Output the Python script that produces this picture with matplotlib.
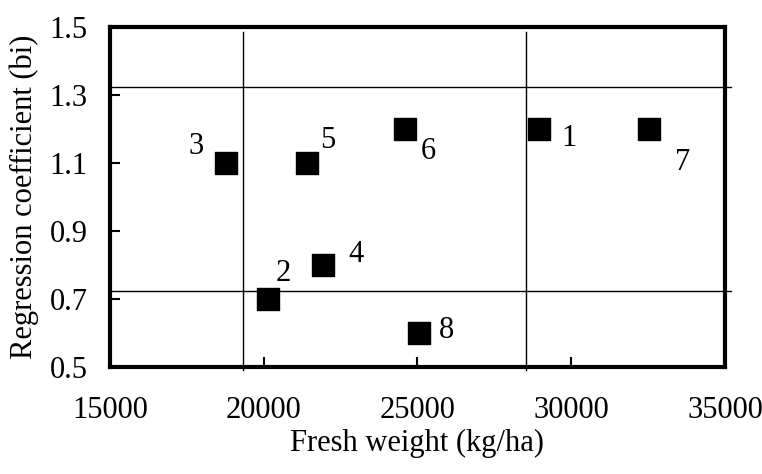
import matplotlib
matplotlib.use("Agg")
import matplotlib.pyplot as plt

plt.rcParams['font.family'] = ['Liberation Serif', 'DejaVu Serif']

# entries 1..8
labels = ['1', '2', '3', '4', '5', '6', '7', '8']
fresh_weight = [28950, 20150, 18780, 21930, 21400, 24590, 32530, 25050]
reg_coef = [1.2, 0.7, 1.1, 0.8, 1.1, 1.2, 1.2, 0.6]

# reference lines
v_lines = [19330, 28540]
h_lines = [1.324, 0.724]

x_ticks = [15000, 20000, 25000, 30000, 35000]
y_ticks = [0.5, 0.7, 0.9, 1.1, 1.3, 1.5]

# label offsets in points (dx, dy)
offsets = {
    '1': (21.5, -4), '2': (11, 21), '3': (-21.5, 14.5), '4': (24, 10),
    '5': (15, 19), '6': (17, -14), '7': (24.5, -21.5), '8': (20, 4.5),
}

fig = plt.figure(figsize=(7.62, 4.74), dpi=100)
ax = fig.add_axes([0.1444, 0.2257, 0.8070, 0.7173])

ax.scatter(fresh_weight, reg_coef, marker='s', s=250, color='black', zorder=3)
for lab, x, y in zip(labels, fresh_weight, reg_coef):
    dx, dy = offsets[lab]
    ax.annotate(lab, (x, y), xytext=(dx, dy), textcoords='offset points',
                fontsize=22, ha='center', va='center_baseline')

for v in v_lines:
    ax.axvline(v, ymin=-0.01, ymax=0.985, color='black', lw=1, clip_on=False)
for h in h_lines:
    ax.axhline(h, xmin=0, xmax=1.01, color='black', lw=1, clip_on=False)

ax.set_xlim(15000, 35000)
ax.set_ylim(0.5, 1.5)
ax.set_xticks(x_ticks)
ax.set_yticks(y_ticks)
ax.set_yticklabels([f'{t:.1f}' for t in y_ticks])
ax.tick_params(axis='both', direction='in', length=7, width=1.5, labelsize=22)
ax.tick_params(axis='x', pad=21)
ax.tick_params(axis='y', pad=16)
for sp in ax.spines.values():
    sp.set_linewidth(3)

ax.set_xlabel('Fresh weight (kg/ha)', fontsize=22, labelpad=3)
ax.set_ylabel('Regression coefficient (bi)', fontsize=22, labelpad=8)

fig.savefig('out.png', dpi=100)
